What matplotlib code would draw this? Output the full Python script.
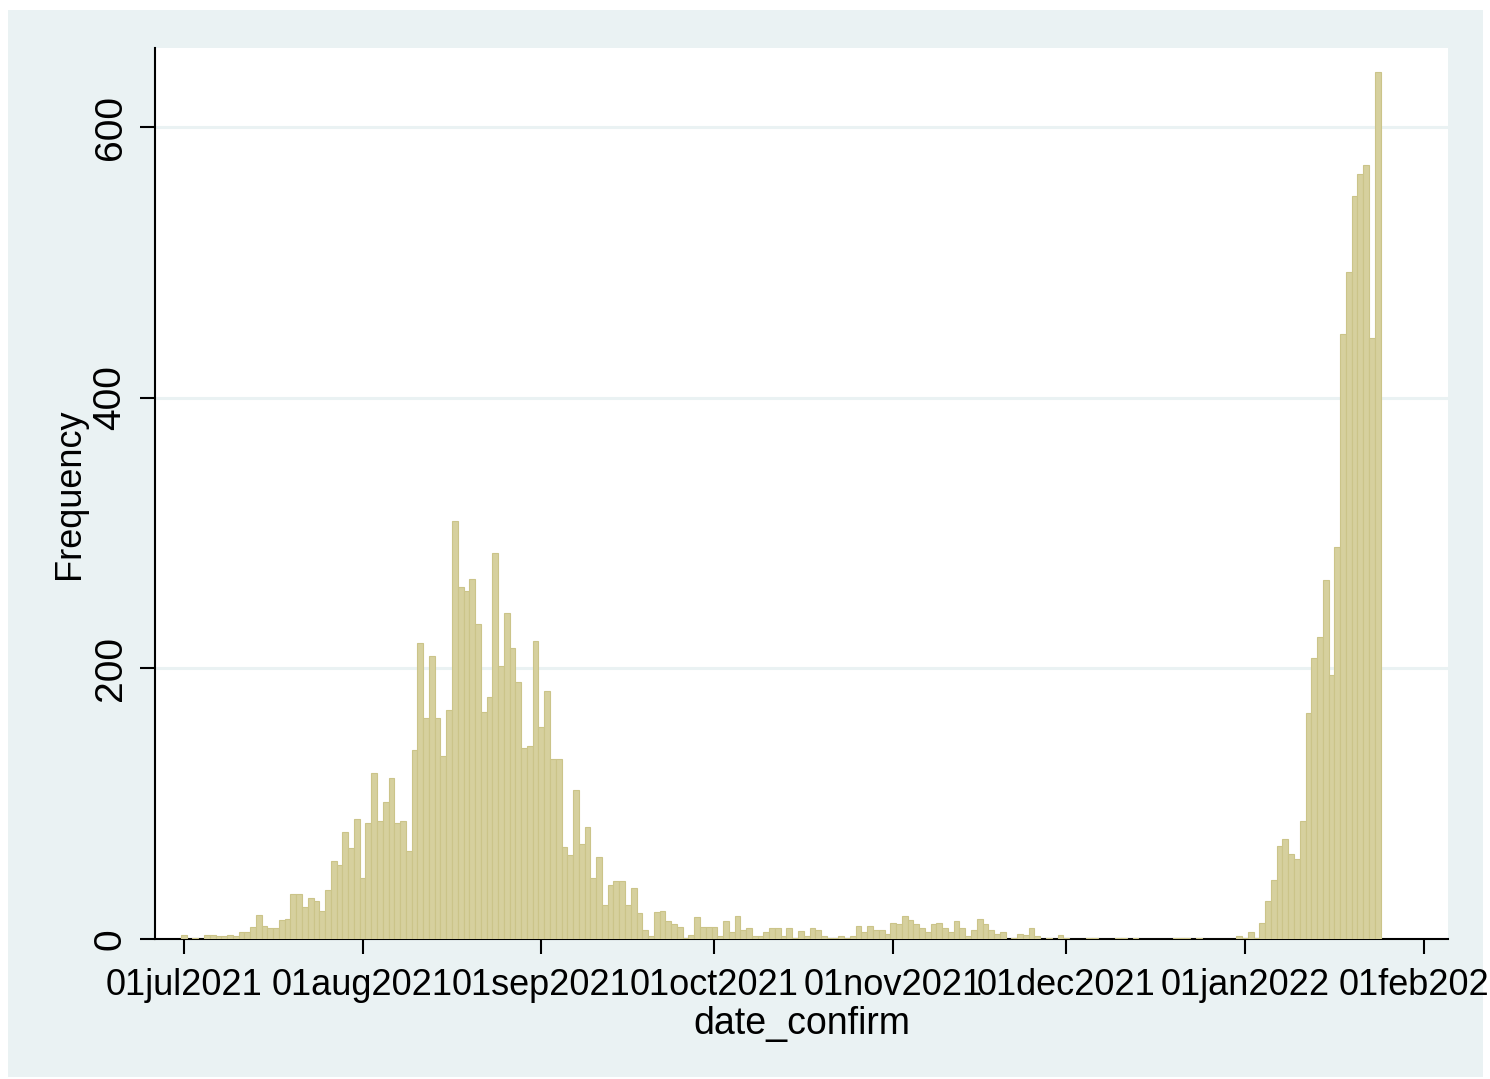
import numpy as np
import pandas as pd
import matplotlib
matplotlib.use('Agg')
import matplotlib.pyplot as plt
import matplotlib.dates as mdates
from matplotlib.patches import Rectangle

# daily counts from 01jul2021 onward
counts = [3, 0, 1, 0, 3, 3, 2, 2, 3, 2, 5, 5, 9, 18, 10, 8, 8, 14, 15, 33,
          33, 24, 30, 28, 21, 36, 58, 55, 79, 67, 89, 45, 86, 123, 87, 101, 119, 86, 87, 65,
          140, 219, 163, 209, 163, 135, 169, 309, 260, 257, 266, 233, 168, 179, 285, 202, 241, 215, 190, 141,
          143, 220, 157, 183, 133, 133, 68, 62, 110, 70, 83, 45, 61, 25, 40, 43, 43, 25, 38, 19,
          7, 2, 20, 21, 13, 11, 9, 1, 3, 16, 9, 9, 9, 2, 13, 5, 17, 7, 8, 2,
          2, 5, 8, 8, 2, 8, 1, 6, 2, 8, 7, 2, 1, 1, 2, 1, 2, 10, 5, 10,
          7, 7, 4, 12, 11, 17, 14, 11, 8, 5, 11, 12, 8, 5, 13, 8, 2, 7, 15, 11,
          7, 4, 5, 0, 1, 4, 3, 8, 2, 0, 1, 0, 3, 1, 0, 0, 0, 1, 1, 0,
          0, 0, 1, 1, 0, 1, 0, 0, 0, 0, 0, 0, 1, 1, 1, 0, 1, 0, 0, 0,
          0, 0, 0, 2, 1, 5, 1, 12, 28, 44, 69, 74, 63, 59, 87, 167, 208, 223, 265, 195,
          290, 447, 493, 549, 565, 572, 444, 641]
dates = pd.date_range('2021-07-01', periods=len(counts), freq='D')

tick_dates = pd.to_datetime(['2021-07-01', '2021-08-01', '2021-09-01', '2021-10-01',
                             '2021-11-01', '2021-12-01', '2022-01-01', '2022-02-01'])
tick_labels = ['01jul2021', '01aug2021', '01sep2021', '01oct2021',
               '01nov2021', '01dec2021', '01jan2022', '01feb2022']
yticks = [0, 200, 400, 600]

plt.rcParams['font.family'] = ['Liberation Sans', 'DejaVu Sans']

bg = '#EAF2F3'
fig = plt.figure(figsize=(14.9, 10.79), dpi=100, facecolor='white')
fig.patches.append(Rectangle((0.0054, 0.0019), 0.9899, 0.9888, transform=fig.transFigure,
                             facecolor=bg, edgecolor='none', zorder=-10))

ax = fig.add_axes([0.1040, 0.1297, 0.8678, 0.8258])
ax.set_facecolor('white')

ax.bar(dates, counts, width=1.0, align='center', color='#D6D09E',
       edgecolor='#CBC489', linewidth=0.8, zorder=3)

x0 = mdates.date2num(pd.Timestamp('2021-07-01'))
ax.set_xlim(x0 - 5.0, x0 + 219.2)
ax.set_ylim(0, 658.4)

ax.set_yticks(yticks)
ax.set_yticklabels([str(v) for v in yticks], rotation=90, va='center', fontsize=28)
for v in yticks[1:]:
    ax.axhline(v, color=bg, linewidth=2.2, zorder=1)

ax.set_xticks(tick_dates)
ax.set_xticklabels(tick_labels, fontsize=26)

ax.tick_params(axis='both', direction='out', length=11, width=1.5, color='black')
ax.tick_params(axis='x', pad=10)
ax.tick_params(axis='y', pad=8)

for s in ['top', 'right']:
    ax.spines[s].set_visible(False)
for s in ['left', 'bottom']:
    ax.spines[s].set_linewidth(1.5)
    ax.spines[s].set_color('black')

ax.set_ylabel('Frequency', fontsize=26, labelpad=4)
ax.set_xlabel('date_confirm', fontsize=27, labelpad=2)

fig.savefig('out.png', dpi=100, facecolor='white')
